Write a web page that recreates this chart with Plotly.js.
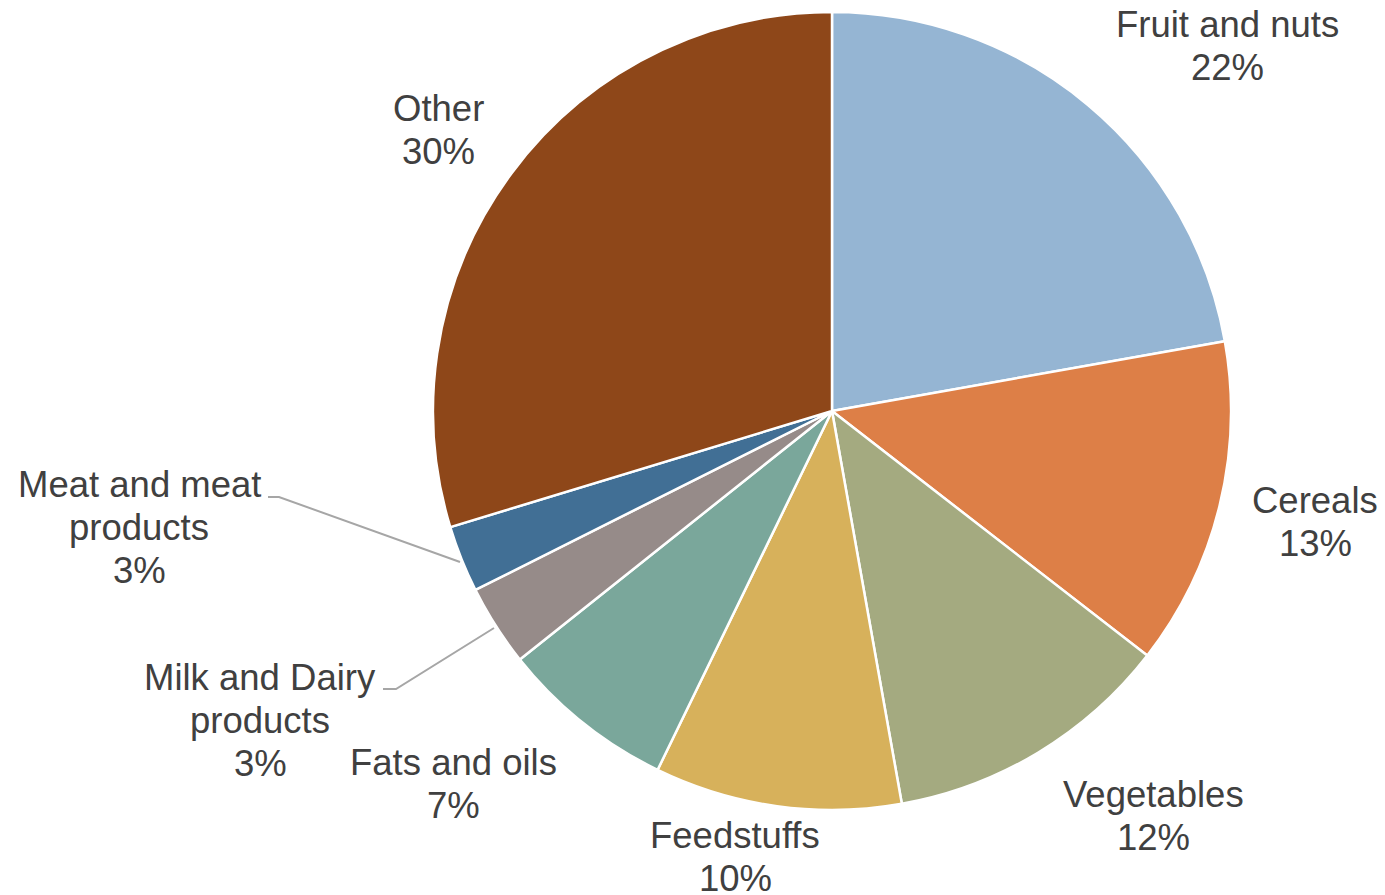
<!DOCTYPE html>
<html>
<head>
<meta charset="utf-8">
<script src="https://cdn.plot.ly/plotly-3.0.1.min.js"></script>
<style>html,body{margin:0;padding:0;background:#fff;}#chart{width:1385px;height:895px;}</style>
</head>
<body>
<div id="chart"></div>
<script>
// ---- data ----
const categories = ["Fruit and nuts", "Cereals", "Vegetables", "Feedstuffs", "Fats and oils", "Milk and Dairy products", "Meat and meat products", "Other"];
const labelLines = [["Fruit and nuts"], ["Cereals"], ["Vegetables"], ["Feedstuffs"], ["Fats and oils"], ["Milk and Dairy", "products"], ["Meat and meat", "products"], ["Other"]];
const shares = [22.2, 13.3, 11.7, 10.0, 7.1, 3.3, 2.7, 29.7];
const colors = ["#95B5D3", "#DD7F47", "#A4AA80", "#D7B15B", "#7AA79B", "#968B89", "#416F95", "#8E4719"];

// ---- layout helpers (label placement in pixels) ----
const W = 1385, H = 895;
const labelPos = [[1227, 46], [1315, 522], [1153, 816], [735, 857], [453, 784], [260, 720], [139, 527], [438, 130]];
const lineGap = 43;
const leaders = [
  null, null, null, null, null,
  [[383, 689], [396, 689], [494, 628]],
  [[268, 497], [279, 497], [460, 562]],
  null
];
const px = x => x / W, py = y => 1 - y / H;

const total = shares.reduce((a, b) => a + b, 0);
const annotations = [];
categories.forEach((c, i) => {
  const lines = labelLines[i].concat([Math.round(shares[i] / total * 100) + "%"]);
  const n = lines.length;
  lines.forEach((t, k) => {
    annotations.push({
      text: t,
      x: px(labelPos[i][0]), y: py(labelPos[i][1] + (k - (n - 1) / 2) * lineGap),
      xref: "paper", yref: "paper", xanchor: "center", yanchor: "middle",
      showarrow: false, align: "center",
      font: {family: "Liberation Sans, Arial, sans-serif", size: 36.5, color: "#404040"}
    });
  });
});
const shapes = leaders.filter(Boolean).map(pts => ({
  type: "path", xref: "paper", yref: "paper",
  path: pts.map((p, k) => (k ? "L" : "M") + px(p[0]) + "," + py(p[1])).join(" "),
  line: {color: "#A6A6A6", width: 2}
}));

const trace = {
  type: "pie",
  labels: categories,
  values: shares,
  sort: false,
  direction: "clockwise",
  rotation: 0,
  textinfo: "none",
  hoverinfo: "label+percent",
  marker: {colors: colors, line: {color: "#ffffff", width: 2.5}},
  domain: {x: [433 / W, 1231 / W], y: [85 / H, 1 - 12 / H]},
  showlegend: false
};

Plotly.newPlot("chart", [trace], {
  width: W, height: H,
  margin: {l: 0, r: 0, t: 0, b: 0},
  paper_bgcolor: "#ffffff",
  showlegend: false,
  annotations: annotations,
  shapes: shapes
}, {displayModeBar: false, staticPlot: true});
</script>
</body>
</html>
